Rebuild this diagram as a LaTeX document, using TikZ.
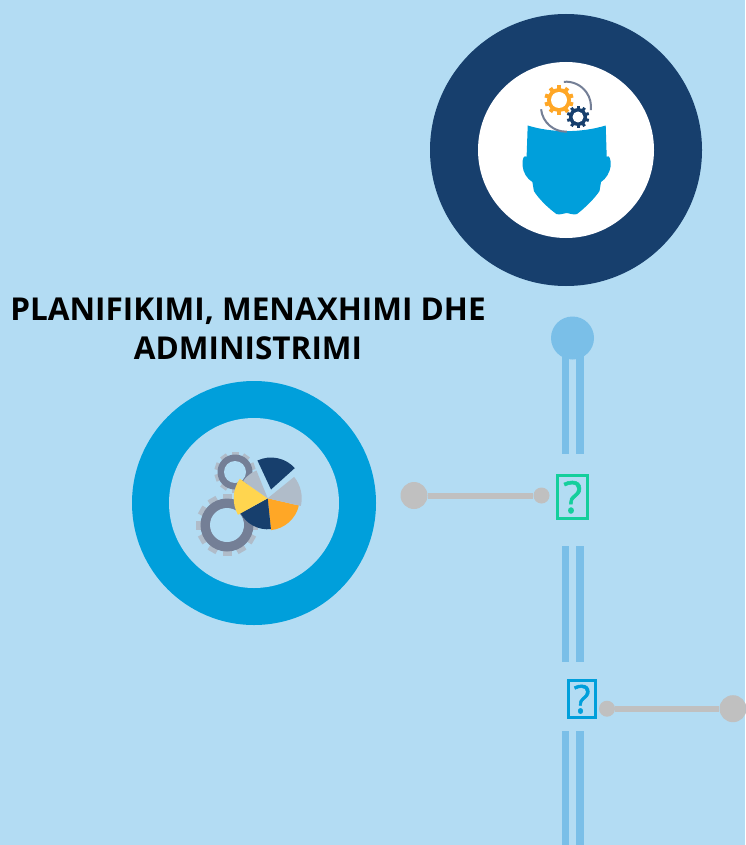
\documentclass[tikz,border=0pt]{standalone}
\usepackage{fontspec}
\setmainfont{Open Sans}
\newfontfamily\qfont[FakeBold=1.2]{Open Sans}
\definecolor{bgblue}{HTML}{B3DCF3}
\definecolor{navy}{HTML}{173F6D}
\definecolor{cyanb}{HTML}{009FDB}
\definecolor{linebl}{HTML}{7ABFE8}
\definecolor{graylink}{HTML}{C0C0C0}
\definecolor{greenb}{HTML}{14CF9C}
\definecolor{gearo}{HTML}{FFA726}
\definecolor{geardk}{HTML}{747F96}
\definecolor{gearlt}{HTML}{B0BCC9}
\definecolor{yel}{HTML}{FFD54F}
\tikzset{
  x=1pt,y=-1pt,
  railbar/.style={fill=linebl,draw=none},
  bigdot/.style={circle,fill=graylink,draw=none,minimum size=27pt,inner sep=0pt},
  smalldot/.style={circle,fill=graylink,draw=none,minimum size=16pt,inner sep=0pt},
  linkline/.style={draw=graylink,line width=6pt},
  qbox/.style={draw=#1,text=#1,line width=3pt,inner sep=0pt},
  titletext/.style={font=\bfseries\fontsize{31.5}{39}\selectfont,align=center,text=black}
}
\newcommand{\mygear}[9]{%
  \foreach \ga in {1,...,#5}{%
    \pgfmathsetmacro{\ang}{360*\ga/#5}%
    \fill[#6,rotate around={\ang:(#1,#2)}] ($(#1,#2)+(-#7,-#3)$) rectangle ($(#1,#2)+(#7,0)$);
  }%
  \fill[#8] (#1,#2) circle[radius=#4];
  \fill[#9] (#1,#2) circle[radius=\gearhole];
}
\newcommand{\pieslice}[5]{\fill[#5] (#1) -- ++(#2:#4) arc[start angle=#2,end angle=#3,radius=#4] -- cycle;}
\usetikzlibrary{calc}
\begin{document}
\begin{tikzpicture}
\useasboundingbox (0,0) rectangle (745,845);
\fill[bgblue] (0,0) rectangle (745,845);
% top badge
\fill[navy] (566,150) circle[radius=136];
\fill[white] (566,150) circle[radius=88];
% head
\fill[cyanb] (527.7,125.5) .. controls (552,133) and (581,133) .. (605.7,125.5)
  -- (606.7,156.7) .. controls (609,155) and (611,158) .. (610.7,166)
  .. controls (610,172) and (606,179) .. (601,182)
  -- (599.5,191)
  .. controls (595,198) and (585,208) .. (577,214)
  .. controls (573,215.5) and (570,213) .. (566.7,213)
  .. controls (563,213) and (560,215.5) .. (556.4,214)
  .. controls (548,208) and (538,198) .. (533.9,191)
  -- (532.4,182)
  .. controls (527,179) and (523,172) .. (522.6,166)
  .. controls (522,158) and (524,155) .. (526.6,156.7) -- cycle;
% head arcs
\draw[geardk,line width=2pt] (563.8,81.8) arc[start angle=-95,end angle=8,radius=25];
\draw[geardk,line width=2pt] (541.1,109.3) arc[start angle=-186,end angle=-272,radius=25];
\def\gearhole{8}
\mygear{559}{100}{14.7}{12}{10}{gearo}{2}{gearo}{white}
\def\gearhole{5.5}
\mygear{578}{117}{11.3}{9}{10}{navy}{1.5}{navy}{white}
% left ring
\fill[cyanb] (254,503) circle[radius=122];
\fill[bgblue] (254,503) circle[radius=85];
% left gears
\def\gearhole{11}
\mygear{235}{472}{20.5}{17.5}{10}{gearlt}{3.5}{geardk}{bgblue}
\def\gearhole{17}
\mygear{227}{525}{31}{26.5}{12}{gearlt}{4.5}{geardk}{bgblue}
% pie
\coordinate (pc) at (267.7,498.3);
\coordinate (px) at (271,489.5);
\pieslice{pc}{13}{84}{32}{gearo}
\pieslice{pc}{84}{151}{31}{navy}
\pieslice{pc}{151}{215}{34}{yel}
\pieslice{pc}{215}{248}{30}{gearlt}
\pieslice{pc}{-39}{13}{34}{gearlt}
\pieslice{px}{245}{318}{32}{navy}
% title
\node[titletext] (title) at (248,328.5) {PLANIFIKIMI, MENAXHIMI DHE\\ADMINISTRIMI};
% rail
\fill[railbar] (561.5,338) rectangle (569,454);
\fill[railbar] (576,338) rectangle (583.5,454);
\fill[railbar] (561.5,546) rectangle (569,662);
\fill[railbar] (576,546) rectangle (583.5,662);
\fill[railbar] (561.5,731) rectangle (569,845);
\fill[railbar] (576,731) rectangle (583.5,845);
\node[circle,fill=linebl,draw=none,minimum size=43pt,inner sep=0pt] (railtop) at (572.5,338) {};
% connector 1
\node[bigdot] (a1) at (414,495.5) {};
\node[smalldot] (a2) at (541.5,495.5) {};
\draw[linkline] (a1) -- (a2);
\node[qbox=greenb,font=\qfont\fontsize{44}{44}\selectfont,minimum width=30.5pt,minimum height=43pt] (q1) at (572.7,497.2) {?};
% connector 2
\node[smalldot] (b1) at (607,708.7) {};
\node[bigdot] (b2) at (733,708.7) {};
\draw[linkline] (b1) -- (b2);
\node[qbox=cyanb,font=\qfont\fontsize{39}{39}\selectfont,minimum width=27pt,minimum height=37.5pt] (q2) at (582,699.2) {?};
\end{tikzpicture}
\end{document}
